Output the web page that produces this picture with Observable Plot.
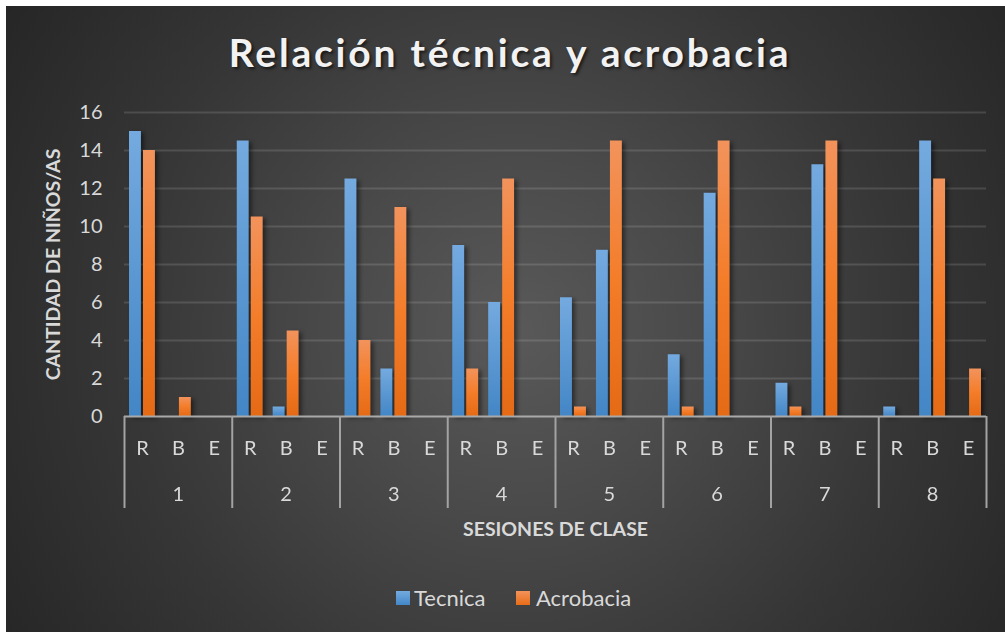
<!DOCTYPE html>
<html>
<head>
<meta charset="utf-8">
<script src="https://cdn.jsdelivr.net/npm/d3@7"></script>
<script src="https://cdn.jsdelivr.net/npm/@observablehq/plot@0.6"></script>
<style>
  body { margin: 0; background: #ffffff; }
  #page { position: relative; width: 1005px; height: 632px; overflow: hidden; font-family: Lato, "Open Sans", sans-serif; }
  #bg { position: absolute; left: 6px; top: 6px; width: 999px; height: 626px;
        background: radial-gradient(circle farthest-corner at 51% 52%, #595959 0%, #4a4a4a 30%, #363636 65%, #262626 100%); }
  #title { position: absolute; left: 0; width: 1020px; top: 29px; text-align: center; color: #f2f2f2;
           font-weight: bold; font-size: 39px; letter-spacing: 2.8px; text-shadow: 2px 2px 3px rgba(0,0,0,0.6); }
  #chart { position: absolute; left: 0; top: 80px; }
  .sw { position: absolute; width: 14px; height: 14px; top: 591px; }
  .lg { position: absolute; top: 583px; font-size: 22px; color: #d9d9d9; line-height: 30px; }
</style>
</head>
<body>
<div id="page">
  <div id="bg"></div>
  <div id="title">Relación técnica y acrobacia</div>
  <div id="chart"></div>
  <div class="sw" style="left:396px;background:linear-gradient(#74aadf,#4387c8);"></div>
  <div class="lg" style="left:414px;">Tecnica</div>
  <div class="sw" style="left:516px;background:linear-gradient(#f2935c,#e86c17);"></div>
  <div class="lg" style="left:536px;">Acrobacia</div>
</div>
<script>
const sessions = ["1", "2", "3", "4", "5", "6", "7", "8"];
const levels = ["R", "B", "E"];
const seriesNames = ["Tecnica", "Acrobacia"];
// values per session, in order R, B, E
const tecnica = [
  15, 0, 0,
  14.5, 0.5, 0,
  12.5, 2.5, 0,
  9, 6, 0,
  6.25, 8.75, 0,
  3.25, 11.75, 0,
  1.75, 13.25, 0,
  0.5, 14.5, 0
];
const acrobacia = [
  14, 1, 0,
  10.5, 4.5, 0,
  4, 11, 0,
  2.5, 12.5, 0,
  0.5, 14.5, 0,
  0.5, 14.5, 0,
  0.5, 14.5, 0,
  0, 12.5, 2.5
];
const yTicks = [0, 2, 4, 6, 8, 10, 12, 14, 16];

const rows = [];
sessions.forEach((s, i) => levels.forEach((l, j) => {
  rows.push({session: s, level: l, serie: seriesNames[0], value: tecnica[i * 3 + j]});
  rows.push({session: s, level: l, serie: seriesNames[1], value: acrobacia[i * 3 + j]});
}));

const sepStyle = {stroke: "#a3a3a3", strokeWidth: 2, y1: 0, y2: 0, insetBottom: -92};

const chart = Plot.plot({
  width: 1005,
  height: 480,
  marginLeft: 124,
  marginRight: 19,
  marginTop: 32,
  marginBottom: 144,
  style: {fontFamily: "Lato, 'Open Sans', sans-serif", color: "#d9d9d9", background: "transparent", overflow: "visible"},
  fx: {domain: sessions, padding: 0, round: false},
  x: {domain: levels, padding: 0, round: false},
  y: {domain: [0, 16]},
  marks: [
    Plot.gridY(yTicks.filter(t => t > 0), {stroke: "#ffffff", strokeOpacity: 0.13, strokeWidth: 2}),
    Plot.barY(rows.filter(d => d.serie === seriesNames[0]), {fx: "session", x: "level", y: "value", fill: "url(#gBlue)", insetLeft: 5, insetRight: 19}),
    Plot.barY(rows.filter(d => d.serie === seriesNames[1]), {fx: "session", x: "level", y: "value", fill: "url(#gOrange)", insetLeft: 19, insetRight: 5}),
    Plot.ruleY([0], {stroke: "#a9a9a9", strokeWidth: 2}),
    Plot.ruleX(sessions, {fx: d => d, x: () => levels[0], dx: -17.96, ...sepStyle}),
    Plot.ruleX(sessions.slice(-1), {fx: d => d, x: () => levels[2], dx: 17.96, ...sepStyle}),
    Plot.axisX({tickSize: 0, tickPadding: 24, fontSize: 20, label: null}),
    Plot.axisFx({anchor: "bottom", tickSize: 0, tickPadding: 70, fontSize: 20, label: "SESIONES DE CLASE", labelAnchor: "center", labelOffset: 119}),
    Plot.axisY({ticks: yTicks, tickSize: 0, tickPadding: 22, fontSize: 20, label: "CANTIDAD DE NIÑOS/AS", labelAnchor: "center", labelOffset: 78, labelArrow: "none"})
  ]
});

const svg = d3.select(chart);
const defs = svg.insert("defs", ":first-child");
const gb = defs.append("linearGradient").attr("id", "gBlue").attr("x1", 0).attr("y1", 0).attr("x2", 0).attr("y2", 1);
gb.append("stop").attr("offset", "0%").attr("stop-color", "#74aadf");
gb.append("stop").attr("offset", "100%").attr("stop-color", "#4386c6");
const go = defs.append("linearGradient").attr("id", "gOrange").attr("x1", 0).attr("y1", 0).attr("x2", 0).attr("y2", 1);
go.append("stop").attr("offset", "0%").attr("stop-color", "#f2935c");
go.append("stop").attr("offset", "50%").attr("stop-color", "#f47d2a");
go.append("stop").attr("offset", "100%").attr("stop-color", "#e56a15");
svg.selectAll('g[aria-label="bar"]').style("filter", "drop-shadow(3px 2px 2px rgba(0,0,0,0.45))");
svg.selectAll('g[aria-label="fx-axis label"] text, g[aria-label="y-axis label"] text')
  .attr("font-weight", "bold").attr("font-size", 19.5);

document.getElementById("chart").appendChild(chart);
</script>
</body>
</html>
